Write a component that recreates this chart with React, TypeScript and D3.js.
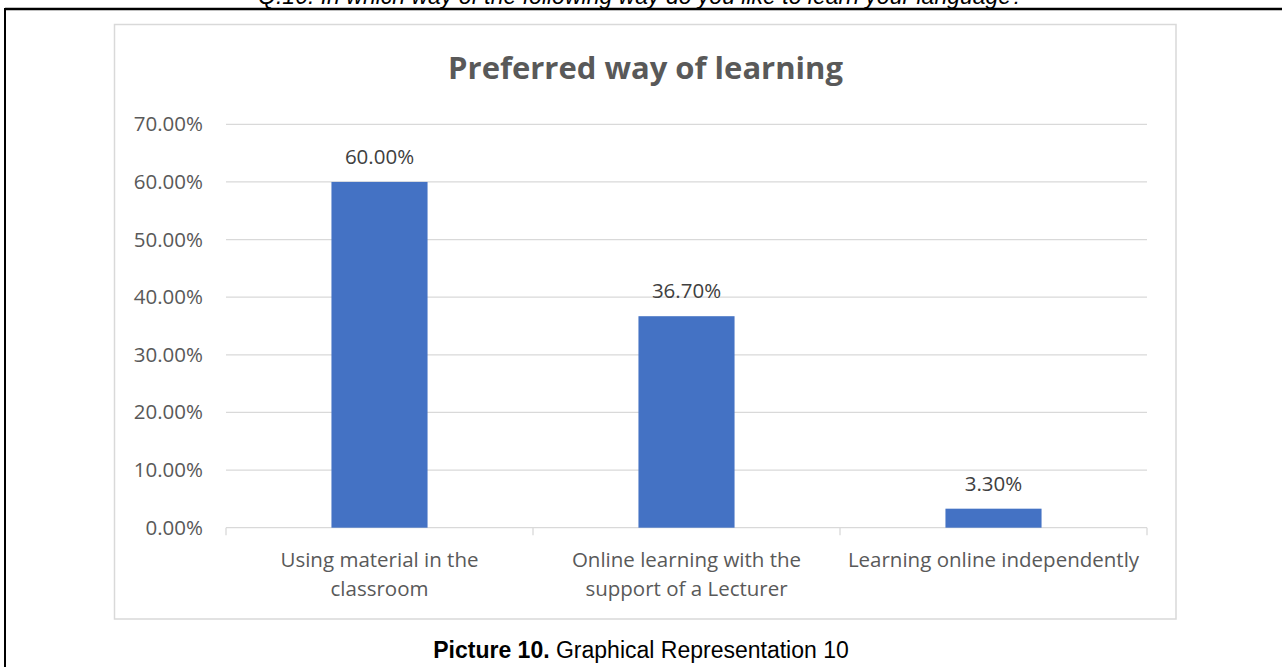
import React from "react";
import * as d3 from "d3";

const categories: string[][] = [
  ["Using material in the", "classroom"],
  ["Online learning with the", "support of a Lecturer"],
  ["Learning online independently"],
];
const values: number[] = [0.6, 0.367, 0.033];
const valueLabels: string[] = ["60.00%", "36.70%", "3.30%"];
const yTicks: number[] = [0, 0.1, 0.2, 0.3, 0.4, 0.5, 0.6, 0.7];

const chartTitle = "Preferred way of learning";
const topCaption = "Q.10: In which way of the following way do you like to learn your language?";

const W = 1282;
const H = 667;
const plotLeft = 226;
const plotRight = 1147;
const plotTop = 124.3;
const plotBottom = 527.7;

export default function App() {
  const keys = categories.map((c) => c.join(" "));
  const x = d3.scaleBand<string>().domain(keys).range([plotLeft, plotRight]).padding(0);
  const y = d3.scaleLinear().domain([0, 0.7]).range([plotBottom, plotTop]);
  const barW = x.bandwidth() * 0.313;
  const tickXs = [...keys.map((k) => x(k) as number), plotRight];
  const font = "'Open Sans', sans-serif";

  return (
    <svg
      width={W}
      height={H}
      style={{ position: "absolute", left: 0, top: 0, background: "#fff" }}
    >
      {/* top caption (partially cut, as in the source) */}
      <text
        x={641}
        y={3.5}
        textAnchor="middle"
        fontFamily="'Liberation Sans', Arial, sans-serif"
        fontStyle="italic"
        fontSize={23}
        fill="#000"
      >
        {topCaption}
      </text>
      {/* outer frame */}
      <line x1={5} x2={W} y1={9} y2={9} stroke="#000" strokeWidth={2.5} />
      <line x1={5} x2={5} y1={8} y2={H} stroke="#000" strokeWidth={2} />

      {/* chart area border */}
      <rect x={114.5} y={24.5} width={1061.5} height={594.5} fill="#fff" stroke="#d9d9d9" strokeWidth={1.5} />

      {/* title */}
      <text x={645.5} y={79} textAnchor="middle" fontFamily={font} fontWeight="bold" fontSize={31} fill="#595959">
        {chartTitle}
      </text>

      {/* gridlines */}
      {yTicks.map((t) => (
        <line key={t} x1={plotLeft} x2={plotRight} y1={y(t)} y2={y(t)} stroke="#d9d9d9" strokeWidth={1.3} />
      ))}
      {/* y tick labels */}
      {yTicks.map((t) => (
        <text key={"l" + t} x={203} y={y(t) + 7} textAnchor="end" fontFamily={font} fontSize={20.5} fill="#595959">
          {d3.format(".2%")(t)}
        </text>
      ))}
      {/* x axis tick marks */}
      {tickXs.map((tx, i) => (
        <line key={"t" + i} x1={tx} x2={tx} y1={plotBottom} y2={plotBottom + 7.5} stroke="#d9d9d9" strokeWidth={1.3} />
      ))}

      {/* bars */}
      {keys.map((k, i) => {
        const cx = (x(k) as number) + x.bandwidth() / 2;
        return (
          <g key={k}>
            <rect x={cx - barW / 2} y={y(values[i])} width={barW} height={plotBottom - y(values[i])} fill="#4472C4" />
            <text x={cx} y={y(values[i]) - 18} textAnchor="middle" fontFamily={font} fontSize={20.5} fill="#404040">
              {valueLabels[i]}
            </text>
            {categories[i].map((line, j) => (
              <text key={j} x={cx} y={566.5 + j * 29.5} textAnchor="middle" fontFamily={font} fontSize={20.5} fill="#595959">
                {line}
              </text>
            ))}
          </g>
        );
      })}

      {/* bottom caption */}
      <text x={641} y={658} textAnchor="middle" fontFamily="'Liberation Sans Narrow', 'Arial Narrow', sans-serif" fontSize={23} fill="#000">
        <tspan fontWeight="bold">Picture 10.</tspan>
        <tspan> Graphical Representation 10</tspan>
      </text>
    </svg>
  );
}
